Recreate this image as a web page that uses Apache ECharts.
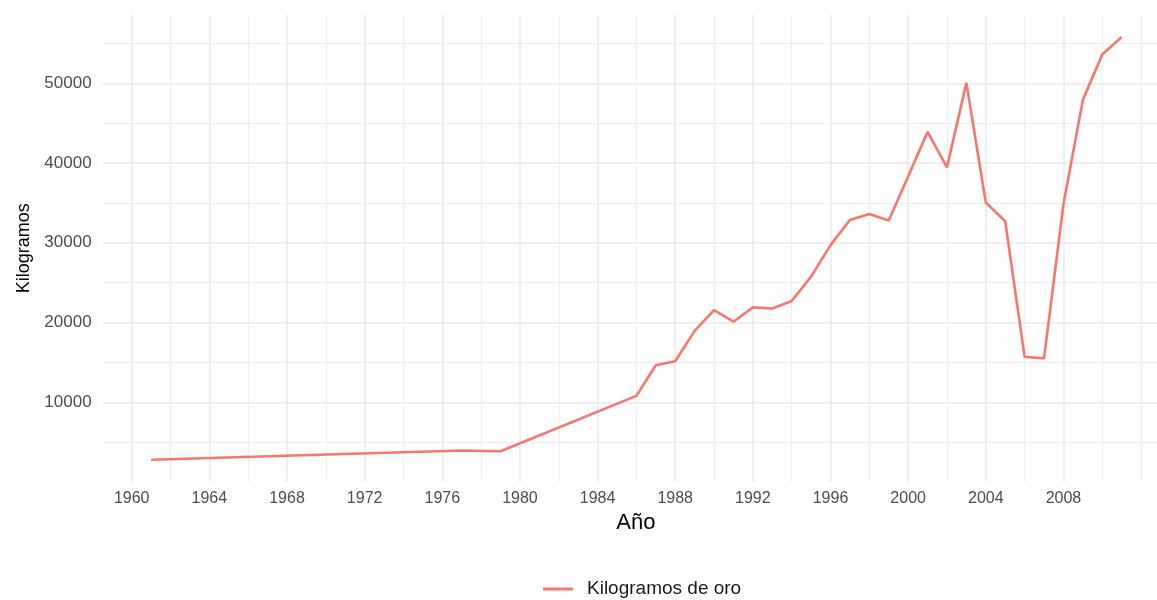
<!DOCTYPE html>
<html>
<head>
<meta charset="utf-8">
<script src="https://cdn.jsdelivr.net/npm/echarts@6/dist/echarts.min.js"></script>
<style>
  html, body { margin: 0; padding: 0; background: #fff; }
  #chart { width: 1157px; height: 600px; }
</style>
</head>
<body>
<div id="chart"></div>
<script>
// produccion de oro (kg) por año
const years = [1961, 1977, 1979, 1986, 1987, 1988, 1989, 1990, 1991, 1992, 1993, 1994,
  1995, 1996, 1997, 1998, 1999, 2000, 2001, 2002, 2003, 2004, 2005, 2006, 2007,
  2008, 2009, 2010, 2011];
const kilos = [2800, 3950, 3850, 10800, 14650, 15150, 18950, 21550, 20100, 21900, 21750, 22700,
  25750, 29700, 32850, 33600, 32800, 38300, 43900, 39450, 50050, 35050, 32700, 15700, 15500,
  34800, 47900, 53600, 55800];

const xBreaks = [1960, 1964, 1968, 1972, 1976, 1980, 1984, 1988, 1992, 1996, 2000, 2004, 2008];
const xMinor = [1962, 1966, 1970, 1974, 1978, 1982, 1986, 1990, 1994, 1998, 2002, 2006, 2010, 2012];
const yBreaks = [10000, 20000, 30000, 40000, 50000];
const yMinor = [5000, 15000, 25000, 35000, 45000, 55000];

// el panel sigue un poco mas alla del borde derecho de la imagen
const xMin = 1958.5, xMax = 2012.82;
const yMin = 40, yMax = 58560;

const chart = echarts.init(document.getElementById("chart"));

const majorLine = { color: "#ebebeb", width: 1.6 };
const minorLine = { color: "#efefef", width: 1 };

chart.setOption({
  animation: false,
  grid: { left: 102.6, right: 0, top: 15, bottom: 118.3, containLabel: false },
  legend: {
    data: ["Kilogramos de oro"],
    icon: "rect",
    left: 543,
    top: 579.5,
    padding: 0,
    itemWidth: 30,
    itemHeight: 3,
    textStyle: { fontSize: 19, color: "#1a1a1a", fontFamily: "Liberation Sans", padding: [0, 0, 0, 9] }
  },
  xAxis: [
    {
      type: "value",
      min: xMin,
      max: xMax,
      name: "Año",
      nameLocation: "middle",
      nameGap: 28,
      nameTextStyle: { fontSize: 22, color: "#000", fontFamily: "Liberation Sans", padding: [0, 0, 0, 12] },
      axisLine: { show: false },
      axisTick: { show: false, customValues: xBreaks },
      axisLabel: {
        customValues: xBreaks,
        margin: 9,
        fontSize: 16,
        color: "#4d4d4d",
        fontFamily: "Liberation Sans",
        formatter: (v) => String(v)
      },
      splitLine: { show: true, lineStyle: majorLine }
    },
    {
      type: "value",
      min: xMin,
      max: xMax,
      axisLine: { show: false },
      axisTick: { show: false, customValues: xMinor },
      axisLabel: { show: false },
      splitLine: { show: true, lineStyle: minorLine }
    }
  ],
  yAxis: [
    {
      type: "value",
      min: yMin,
      max: yMax,
      name: "Kilogramos",
      nameLocation: "middle",
      nameGap: 68,
      nameTextStyle: { fontSize: 18, color: "#000", fontFamily: "Liberation Sans" },
      axisLine: { show: false },
      axisTick: { show: false, customValues: yBreaks },
      axisLabel: {
        customValues: yBreaks,
        margin: 11,
        fontSize: 17,
        color: "#4d4d4d",
        fontFamily: "Liberation Sans",
        formatter: (v) => String(v)
      },
      splitLine: { show: true, lineStyle: majorLine }
    },
    {
      type: "value",
      min: yMin,
      max: yMax,
      axisLine: { show: false },
      axisTick: { show: false, customValues: yMinor },
      axisLabel: { show: false },
      splitLine: { show: true, lineStyle: minorLine }
    }
  ],
  series: [
    {
      name: "Kilogramos de oro",
      type: "line",
      xAxisIndex: 0,
      yAxisIndex: 0,
      symbol: "none",
      lineStyle: { color: "#F8766D", width: 2.6 },
      itemStyle: { color: "#F8766D" },
      data: years.map((y, i) => [y, kilos[i]])
    }
  ]
});

window.addEventListener("resize", chart.resize);
</script>
</body>
</html>
